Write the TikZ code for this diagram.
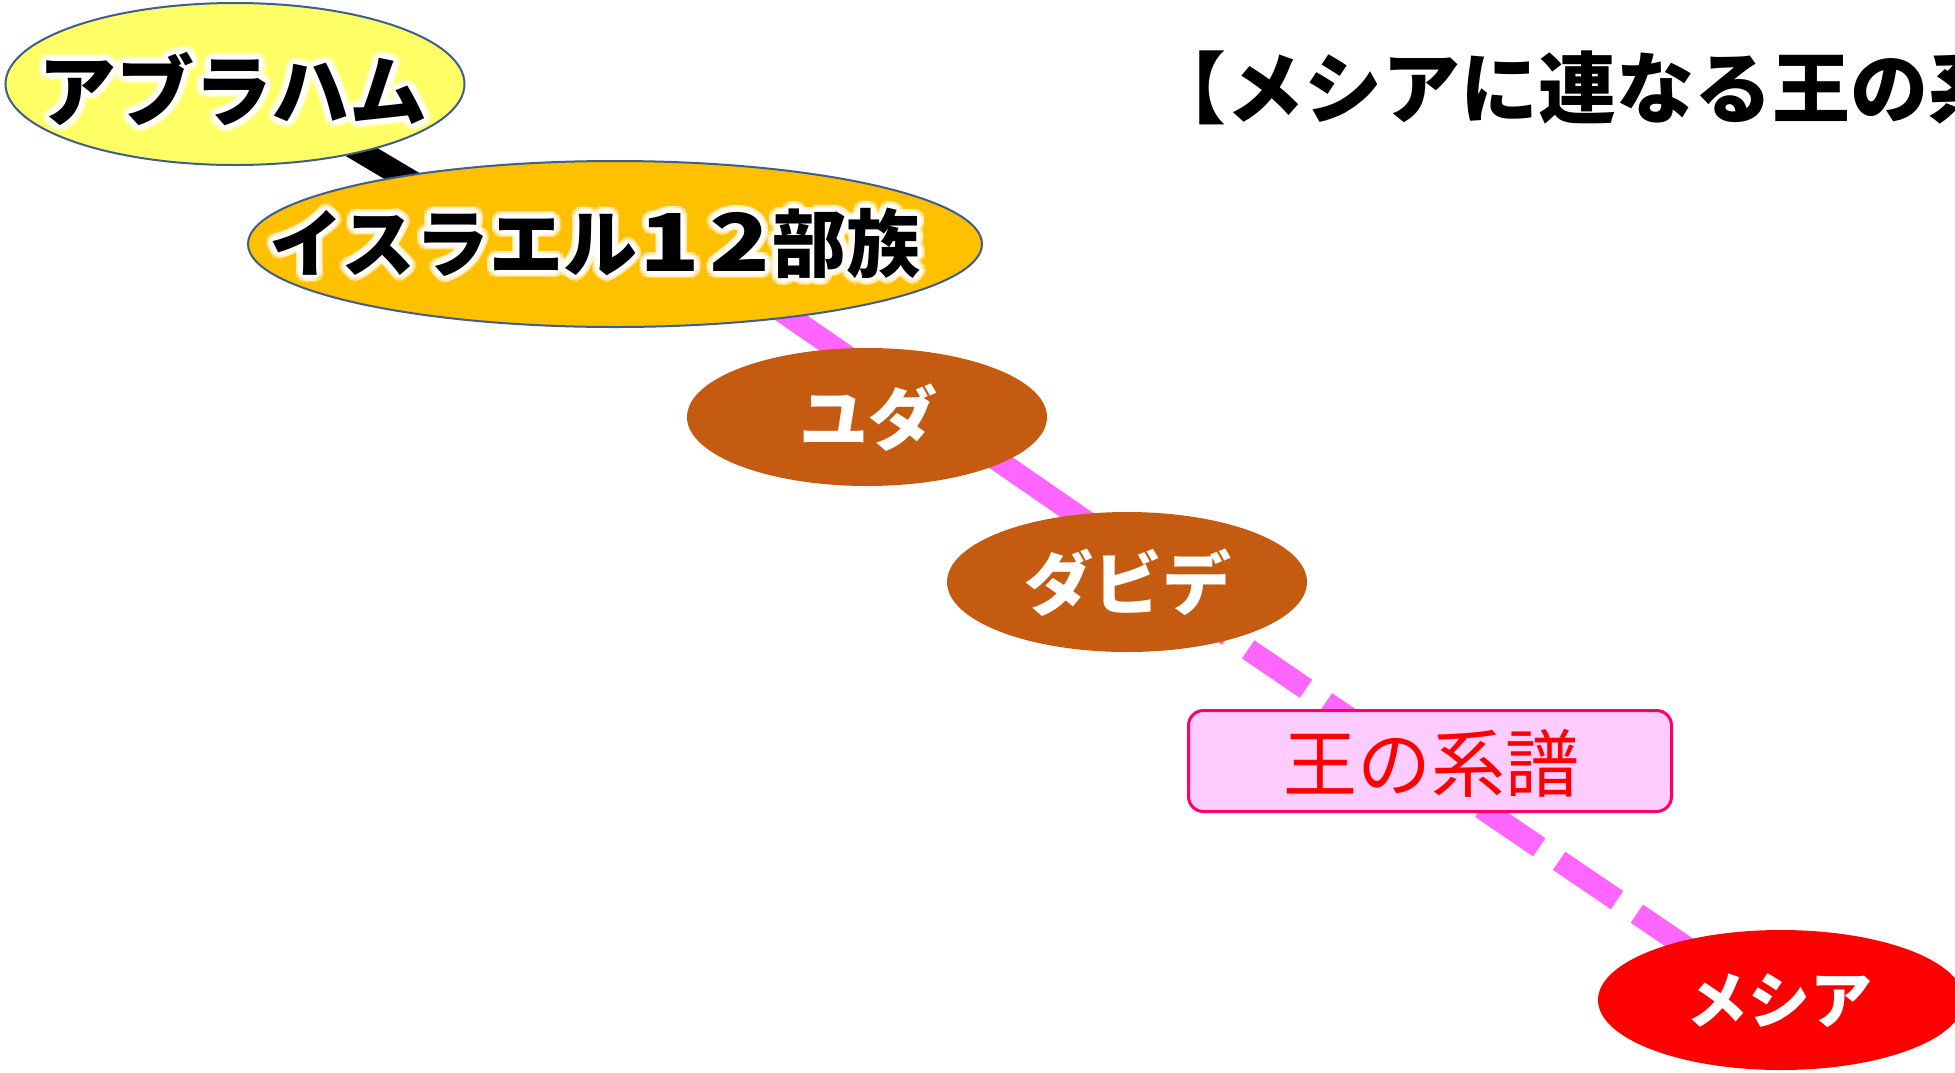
\documentclass[tikz,border=0pt]{standalone}
\usepackage{graphicx}
\usepackage{fontspec}
\newfontfamily\jp{Noto Sans CJK JP}
\usetikzlibrary{shapes.geometric,calc,backgrounds}
\definecolor{abyellow}{HTML}{FFFF66}
\definecolor{isorange}{HTML}{FFC000}
\definecolor{brownnode}{HTML}{C55A11}
\definecolor{messred}{HTML}{FF0000}
\definecolor{pinkline}{HTML}{FF66FF}
\definecolor{boxfill}{HTML}{FFCCFF}
\definecolor{boxborder}{HTML}{FF0066}
\definecolor{ellborder}{HTML}{3F5E8C}
\newcommand\glowtext[4]{%
  \foreach \k in {0,...,15}{
    \node[font=#3, text=white, opacity=0.4, inner sep=0pt] (#1-g\k) at ($(#2)+(\k*22.5:7)$) {#4};
  }
  \foreach \k in {0,...,7}{
    \node[font=#3, text=white, inner sep=0pt] (#1-h\k) at ($(#2)+(\k*45:3.5)$) {#4};
  }
  \node[font=#3, text=black, inner sep=0pt] (#1) at (#2) {#4};
}
\newcommand\widedigit[1]{\scalebox{1.35}[1.08]{#1}}
\begin{document}
\begin{tikzpicture}[x=1pt,y=-1pt,
  ellnode/.style={ellipse, inner sep=0pt, outer sep=0pt},
  whitelabel/.style={text=white, inner sep=0pt, font=\jp\bfseries\fontsize{69}{80}\selectfont},
  blackconn/.style={draw=black, line width=23pt},
  pinkconn/.style={draw=pinkline, line width=22pt},
  pinkdash/.style={draw=pinkline, line width=22pt, dash pattern=on 70pt off 24pt, dash phase=41.5pt}
]
\useasboundingbox (0,0) rectangle (1955,1072);
\clip (0,0) rectangle (1955,1072);

% nodes
\node[ellnode, fill=abyellow, draw=ellborder, line width=2pt, minimum width=459pt, minimum height=162pt] (abraham) at (235,84) {};
\node[ellnode, fill=isorange, draw=ellborder, line width=2pt, minimum width=734pt, minimum height=166pt] (israel) at (615,244) {};
\node[ellnode, fill=brownnode, minimum width=360pt, minimum height=138pt] (yuda) at (867,417) {};
\node[ellnode, fill=brownnode, minimum width=360pt, minimum height=140pt] (david) at (1127,582) {};
\node[rectangle, rounded corners=15pt, fill=boxfill, draw=boxborder, line width=3pt, minimum width=483pt, minimum height=101pt, inner sep=0pt] (kbox) at (1430,761) {};
\node[ellnode, fill=messred, minimum width=366pt, minimum height=140pt] (messiah) at (1781,1000) {};

% texts
\coordinate (abt) at ($(abraham.center)+(-2,5)$);
\glowtext{abrahamtext}{abt}{\jp\bfseries\fontsize{78}{90}\selectfont}{アブラハム}
\coordinate (ist) at ($(israel.center)+(-20,-1)$);
\glowtext{israeltext}{ist}{\jp\bfseries\fontsize{74}{86}\selectfont}{イスラエル\hspace{2pt}\widedigit{1}\hspace{10pt}\widedigit{2}\hspace{2pt}部族}
\node[whitelabel] (yudatext) at ($(yuda.center)+(1,1)$) {ユダ};
\node[whitelabel] (davidtext) at ($(david.center)+(1,1)$) {ダビデ};
\node[inner sep=0pt, text=messred, font=\jp\fontsize{74}{86}\selectfont] (boxtext) at ($(kbox.center)+(1,2)$) {王の系譜};
\node[whitelabel, font=\jp\bfseries\fontsize{62}{72}\selectfont] (messiahtext) at ($(messiah.center)+(-2,1)$) {メシア};
\node[anchor=west, inner sep=0pt, text=black, font=\jp\bfseries\fontsize{78}{90}\selectfont] (title) at (1148,88) {【メシアに連なる王の系譜】};

% connectors (behind)
\begin{pgfonlayer}{background}
\fill[white] (0,0) rectangle (1955,1072);
\draw[blackconn] ($(abraham.center)+(0,-7)$) -- ($(israel.center)+(-95,2)$);
\draw[pinkconn] ($(israel.center)+(65,-3)$) -- ($(david.center)+(-27,-51)$);
\draw[pinkdash] ($(david.center)+(0,-15)$) -- ($(messiah.center)+(2,13)$);
\end{pgfonlayer}
\end{tikzpicture}
\end{document}
